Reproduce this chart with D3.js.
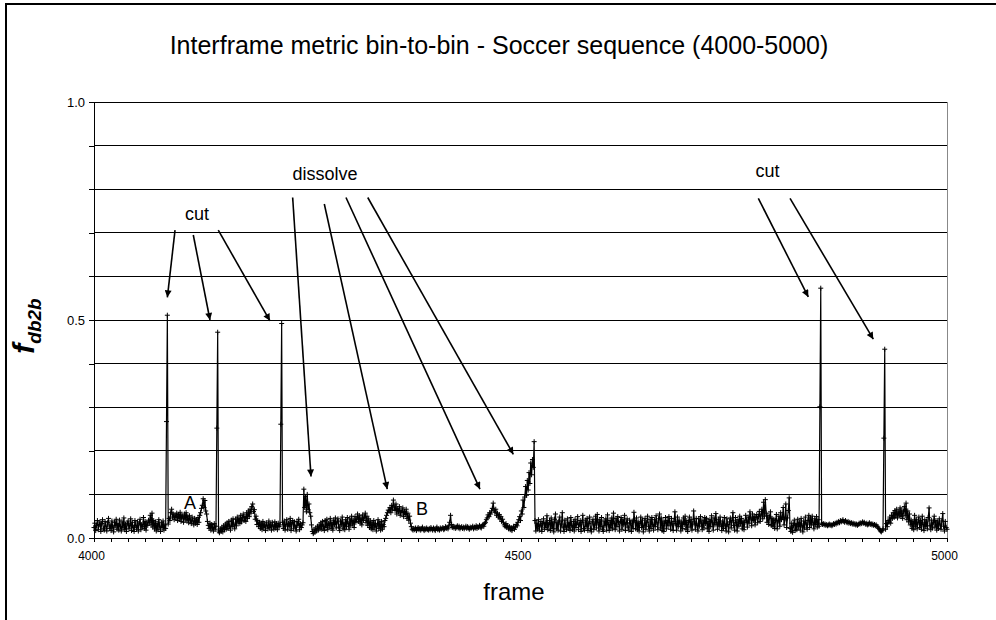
<!DOCTYPE html>
<html><head><meta charset="utf-8">
<script src="https://cdn.jsdelivr.net/npm/d3@7"></script>
<style>body{margin:0;background:#fff}svg{display:block;font-family:"Liberation Sans",Arial,sans-serif}</style>
</head><body><svg id="c" width="996" height="620"></svg>
<script>
// ---- data: fdb2b value per frame, in segments (start frame, values) ----
const seg4000 = [.024,.034,.017,.029,.040,.019,.031,.037,.015,.033,
 .042,.021,.018,.038,.027,.016,.035,.045,.022,.030,
 .017,.039,.025,.014,.036,.028,.043,.020,.033,.018,
 .041,.026,.016,.037,.023,.046,.019,.032,.015,.034,
 .039,.021,.028,.044,.017,.036,.024,.015,.040,.029,
 .020,.037,.016,.034,.043,.019,.031,.026,.047,.022,
 .038,.018,.035,.029,.041,.036,.052,.030,.057,.025,
 .040,.021,.037,.016,.033,.019,.042,.027,.015,.035,
 .024,.039,.018,.030,.022];
const cut4085 = [.267,.511];
const seg4087 = [.032,.045,.040,.058,.066,.048,.055,.042,.053,.047,
 .057,.040,.054,.044,.059,.038,.052,.049,.036,.055,
 .043,.058,.039,.050,.035,.051,.041,.033,.048,.039,
 .030,.045,.034,.042,.031,.047,.036,.052,.058,.068,
 .075,.090,.070,.086,.062,.055,.038,.029,.022,.034,
 .018,.031,.024,.016,.033,.020,.027];
const cut4144 = [.252,.472];
const seg4146 = [.016,.012,.021,.015,.025,.014,.028,.019,.032,.020,
 .035,.022,.038,.027,.018,.041,.026,.044,.030,.021,
 .043,.028,.048,.036,.045,.033,.052,.037,.047,.055,
 .040,.050,.038,.058,.045,.062,.049,.066,.057,.072,
 .078,.061,.065,.043,.050,.031,.040,.026,.036,.022,
 .034,.019,.038,.025,.030,.017,.035,.028,.021,.039,
 .024,.032,.018,.036,.027,.020,.037,.023,.033,.019,
 .034,.026,.030];
const cut4219 = [.261,.492];
const seg4221 = [.036,.022,.039,.018,.031,.042,.020,.034,.027,.045,.017,.035,.040,.021,.037,.025,.016,.038,.029,.043,.019,.033,.024,.030,
 .035,.112,.070,.095,.060,.100,.065,.078,.058,.050,.030];
const seg4256 = [.015,.010,.020,.013,.023,.016,.027,.018,.030,.021,
 .035,.020,.038,.026,.017,.040,.024,.043,.019,.034,
 .028,.045,.022,.036,.018,.041,.031,.046,.023,.037,
 .044,.025,.017,.039,.030,.048,.021,.035,.019,.042,
 .026,.047,.033,.020,.044,.028,.050,.032,.041,.024,
 .049,.036,.043,.055,.038,.051,.034,.046,.030,.053,
 .040,.048,.057,.035,.050,.029,.044,.024,.039,.021,
 .036,.019,.040,.025,.033,.016,.030,.042,.022,.035,
 .018,.038,.020,.031,.026,.040,.045,.052,.058,.064];
const seg4346 = [.062,.070,.058,.075,.066,.087,.071,.063,.078,.055,.068,.060,.072,.052,.064,.058,.069,.049,.061,.054,.066,.045,.057,.041,.050,.034,.026];
const seg4373 = [.020,.018,.022,.019,.023,.017,.021,.024,.019,.022,.018,.021,.025,.020,.017,.022,.019,.023,.020,.018,.022,.019,.024,.021,.018,.023,.020,.017,.022,.025,.019,.021,.018,.023,.020,.022,.024,.019,.021,.026,.022,.025,.021,.028,.036,.052,.031,.024,.027,.023,.026,.022,.025,.028,.023,.027,.021,.024,.026,.022,.025,.021,.024,.027,.022,.026,.023,.020,.025,.022,.024,.027,.021,.025,.023,.028,.022,.026,.024,.029,.025,.023,.028,.031,.027,.033,.036,.042];
const seg4461 = [.046,.053,.049,.058,.055,.062,.068,.080,.064,.059,.066,.052,.057,.048,.054,.044,.049,.038,.043,.035,
 .030,.026,.033,.024,.028,.021,.026,.019,.024,.017,.022,.027,.020,.025,.031,.028,.036,.042];
const seg4499 = [.049,.040,.062,.055,.087,.070,.094,.118,.098,.132,.110,.150,.125,.172,.145,.180,.162,.221];
const seg4517 = [.040,.016,.034,.021,.042,.018,.030,.038,.015,.033,
 .044,.020,.036,.024,.051,.019,.031,.040,.017,.046,
 .022,.037,.014,.043,.055,.021,.035,.018,.039,.048,
 .016,.032,.058,.025,.015,.041,.027,.019,.044,.023,
 .036,.017,.047,.029,.020,.038,.016,.043,.024,.034,
 .049,.019,.031,.040,.015,.036,.052,.022,.018,.041,
 .026,.045,.017,.033,.048,.021,.014,.037,.043,.019,
 .030,.050,.023,.054,.035,.016,.042,.026,.047,.020,
 .015,.039,.028,.044,.018,.053,.031,.017,.040,.024,
 .046,.021,.057,.033,.019,.045,.026,.049,.036,.016,
 .038,.047,.020,.042,.030,.052,.017,.035,.044,.025,
 .018,.041,.034,.015,.039,.022,.059,.040,.021,.046,
 .019,.037,.016,.033,.048,.024,.041,.014,.029,.045,
 .020,.036,.050,.027,.016,.043,.022,.047,.031,.018,
 .042,.026,.051,.035,.019,.044,.055,.023,.046,.017,
 .039,.015,.034,.047,.021,.040,.028,.049,.036,.020,
 .045,.030,.017,.038,.060,.033,.018,.048,.026,.041,
 .034,.016,.037,.022,.046,.031,.050,.019,.040,.015,
 .036,.048,.025,.043,.018,.032,.062,.037,.020,.045,
 .029,.016,.044,.027,.049,.034,.019,.041,.023,.047,
 .033,.045,.021,.038,.015,.042,.026,.051,.035,.018,
 .046,.030,.056,.036,.020,.043,.027,.048,.032,.017,
 .039,.022,.047,.028,.016,.044,.031,.014,.037,.046,
 .023,.040,.058,.029,.018,.047,.035,.016,.042,.027,
 .050,.033,.045,.021,.039,.019,.036,.052,.041,.025,
 .048,.034,.060,.046,.028,.055,.040,.050,.030,.047,
 .054,.035,.049,.061,.038,.053,.066,.044,.082,.050,
 .088,.057,.036,.052,.031,.048,.060,.029,.045,.026,
 .043,.022,.040,.054,.021,.039,.050,.027,.058,.042,
 .047,.070,.030,.044,.078,.024,.046,.063,.092,.022,
 .015,.034,.013,.029,.041,.017,.033,.019,.043,.026,
 .036,.018,.045,.028,.014,.039,.023,.048,.032,.020,
 .040,.052,.024,.046,.030,.050,.035,.021,.044,.031,
 .049,.025,.042,.027];
const cut4851 = [.301,.573];
const seg4853 = [.034,.031,.033,.030,.032,.029,.031,.028,.030,.032,.029,.031,.028,.030,.033,.031,.034,.032,.036,.034,.038,.035,.040,.037,.039,.042,.038,.036,.040,.037,.035,.038,.034,.036,.033,.035,.032,.034,.031,.033,.030,.032,.029,.031,.034,.032,.035,.033,.037,.034,.036,.033,.031,.034,.030,.032,.035,.031,.033,.030,.032,.029,.031,.028,.030,.027,.025,.022,.019,.016,.014,.017,.021];
const cut4926 = [.229,.433];
const seg4928 = [.020,.033,.026,.040,.036,.048,.034,.052,.045,.058,
 .047,.063,.050,.066,.046,.060,.052,.069,.049,.064,
 .045,.060,.072,.051,.080,.042,.062,.037,.055,.030,
 .041,.022,.038,.019,.052,.027,.043,.021,.036,.048,
 .024,.040,.020,.050,.031,.017,.042,.026,.039,.021,
 .047,.069,.028,.019,.041,.023,.036,.050,.025,.040,
 .018,.037,.022,.044,.030,.020,.039,.056,.027,.016,
 .038,.024,.020];

const segStarts = [4000,4085,4087,4144,4146,4219,4221,4256,4346,4373,4461,4499,4517,4851,4853,4926,4928];
const segValues = [seg4000,cut4085,seg4087,cut4144,seg4146,cut4219,seg4221,seg4256,seg4346,seg4373,seg4461,seg4499,seg4517,cut4851,seg4853,cut4926,seg4928];

const xTickLabels = ["4000","4500","5000"];
const yTickLabels = ["0.0","0.5","1.0"];

// annotations (data coordinates: frame, value)
const labelTexts = ["cut","dissolve","cut","A","B"];
const labelFrames = [4120.7,4270.8,4789.6,4112.5,4384.5];
const labelValues = [0.729,0.821,0.828,0.0665,0.0528];
const arrowFrom = [[4095,0.706],[4116.4,0.695],[4145.7,0.706],[4232.9,0.781],[4270,0.766],[4295.4,0.781],[4320.9,0.781],[4778.8,0.779],[4816,0.779]];
const arrowTo   = [[4086,0.552],[4136,0.5],[4206.3,0.498],[4254.4,0.141],[4343.8,0.112],[4452.5,0.112],[4491.6,0.192],[4837.4,0.553],[4913.6,0.456]];

const data = segStarts.flatMap((s,k)=>segValues[k].map((v,i)=>({f:s+i,v})));

const svg = d3.select("#c");
const x = d3.scaleLinear([4000,5000],[94,947]);
const y = d3.scaleLinear([0,1],[538,102]);

// outer frame
svg.append("rect").attr("x",6).attr("y",4).attr("width",1200).attr("height",1000)
  .attr("fill","none").attr("stroke","#000").attr("stroke-width",2);

// title
svg.append("text").attr("x",499).attr("y",54).attr("text-anchor","middle")
  .attr("font-size",25).text("Interframe metric bin-to-bin - Soccer sequence (4000-5000)");

// gridlines
svg.append("g").selectAll("line").data(d3.range(1,11).map(i=>i/10)).join("line")
  .attr("x1",x(4000)).attr("x2",x(5000)).attr("y1",d=>y(d)).attr("y2",d=>y(d))
  .attr("stroke","#000").attr("stroke-width",1).attr("shape-rendering","crispEdges");
// right border of plot
svg.append("line").attr("x1",x(5000)).attr("x2",x(5000)).attr("y1",y(1)).attr("y2",y(0))
  .attr("stroke","#888").attr("shape-rendering","crispEdges");

// axes
const yAx = svg.append("g").attr("transform",`translate(${x(4000)},0)`)
  .call(d3.axisLeft(y).tickValues(d3.range(0,11).map(i=>i/10)).tickSize(5).tickSizeOuter(0).tickPadding(4)
    .tickFormat(d=>{const i=[0,0.5,1].indexOf(Math.round(d*10)/10);return i>=0?yTickLabels[i]:"";}));
const xAx = svg.append("g").attr("transform",`translate(0,${y(0)})`)
  .call(d3.axisBottom(x).tickValues(d3.range(4000,5001,20)).tickSize(4).tickSizeOuter(0).tickPadding(9)
    .tickFormat(d=>{const i=[4000,4500,5000].indexOf(d);return i>=0?xTickLabels[i]:"";}));
[yAx,xAx].forEach(g=>{g.selectAll("path,line").attr("stroke","#000").attr("shape-rendering","crispEdges");
  g.selectAll("text").attr("font-family","Liberation Sans, Arial, sans-serif").attr("fill","#000");});
yAx.selectAll("text").attr("font-size",13);
xAx.selectAll("text").attr("font-size",12).attr("dx",-3);

// series line
svg.append("path").datum(data).attr("fill","none").attr("stroke","#000").attr("stroke-width",1.2)
  .attr("d",d3.line().x(d=>x(d.f)).y(d=>y(d.v)));
// "+" markers
svg.append("path").attr("fill","none").attr("stroke","#000").attr("stroke-width",1)
  .attr("d",data.map(d=>{const px=x(d.f),py=y(d.v);return `M${px-2.5},${py}h5M${px},${py-2.5}v5`;}).join(""));

// arrows
const defs = svg.append("defs");
defs.append("marker").attr("id","ah").attr("viewBox","0 0 10 10").attr("refX",10).attr("refY",5)
  .attr("markerWidth",10).attr("markerHeight",7).attr("markerUnits","userSpaceOnUse").attr("orient","auto")
  .append("path").attr("d","M0,0L10,5L0,10z").attr("fill","#000");
svg.append("g").selectAll("line").data(arrowFrom).join("line")
  .attr("x1",d=>x(d[0])).attr("y1",d=>y(d[1]))
  .attr("x2",(d,i)=>x(arrowTo[i][0])).attr("y2",(d,i)=>y(arrowTo[i][1]))
  .attr("stroke","#000").attr("stroke-width",1.6).attr("marker-end","url(#ah)");

// labels
svg.append("g").selectAll("text").data(labelTexts).join("text")
  .attr("x",(d,i)=>x(labelFrames[i])).attr("y",(d,i)=>y(labelValues[i]))
  .attr("text-anchor","middle").attr("font-size",18).text(d=>d);

// axis titles
svg.append("text").attr("x",514).attr("y",600).attr("text-anchor","middle").attr("font-size",24).text("frame");
const yl = svg.append("text").attr("transform","translate(34,326) rotate(-90)").attr("text-anchor","middle")
  .attr("font-weight","bold").attr("font-style","italic");
yl.append("tspan").attr("font-size",30).text("f");
yl.append("tspan").attr("font-size",19).attr("dy",7).text("db2b");
</script></body></html>
